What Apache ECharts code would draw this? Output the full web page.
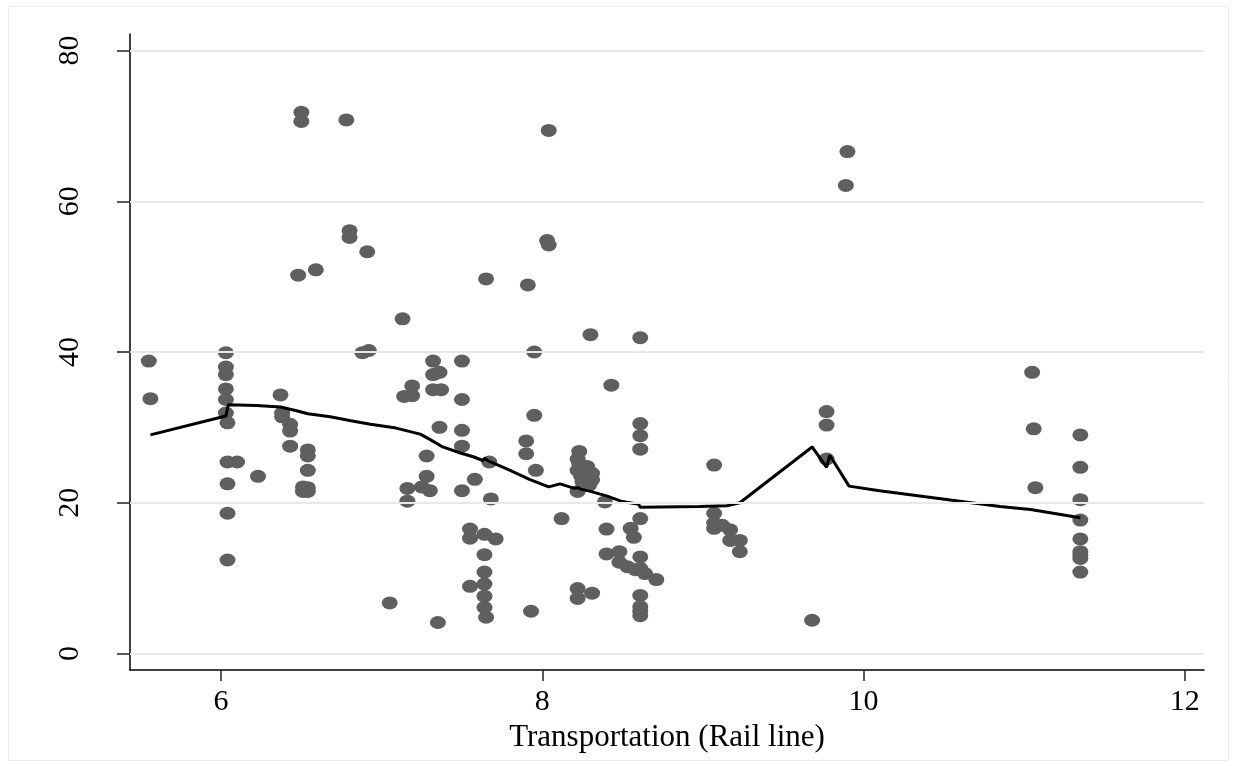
<!DOCTYPE html>
<html>
<head>
<meta charset="utf-8">
<script src="https://cdn.jsdelivr.net/npm/echarts@6/dist/echarts.min.js"></script>
<style>
html,body{margin:0;padding:0;background:#fff;}
#chart{width:1235px;height:766px;}
</style>
</head>
<body>
<div id="chart"></div>
<script>
// ---- data ----
var pointX = [
  5.55,5.56,
  6.03,6.03,6.03,6.03,6.03,6.03,6.04,6.04,6.10,6.04,6.04,6.04,
  6.23,
  6.37,6.38,6.38,6.43,6.43,6.43,
  6.54,6.54,6.54,6.51,6.54,6.51,6.54,
  6.48,6.59,6.50,6.50,6.78,6.80,6.80,6.91,
  6.88,6.92,7.13,
  7.14,7.19,7.19,
  7.32,7.50,7.32,7.36,7.32,7.37,
  7.50,7.36,7.50,7.50,7.28,7.28,
  7.16,7.25,7.30,7.16,7.58,7.50,7.68,7.67,
  7.55,7.55,7.64,7.71,7.64,7.64,7.55,7.64,7.64,7.64,7.65,
  7.05,7.35,
  7.65,7.91,7.95,7.95,7.90,7.90,7.96,7.93,
  8.04,8.03,8.04,
  8.12,
  8.30,8.61,8.43,
  8.61,8.61,8.61,
  8.23,8.22,8.23,8.22,8.24,8.31,8.31,8.29,8.22,8.25,8.28,
  8.39,8.61,8.40,8.55,8.57,8.40,8.48,8.48,8.53,8.58,8.61,8.61,8.64,8.71,
  8.22,8.22,8.31,
  8.61,8.61,8.61,8.61,
  9.07,9.07,9.07,9.07,9.12,9.17,9.17,9.23,9.23,
  9.68,9.77,9.77,9.77,
  9.90,9.89,
  11.05,11.06,11.07,
  11.35,11.35,11.35,11.35,11.35,11.35,11.35,11.35,11.35
];
var pointY = [
  38.8,33.8,
  39.9,38.0,37.0,35.1,33.7,31.9,30.6,25.4,25.4,22.5,18.6,12.4,
  23.5,
  34.3,31.9,31.4,30.4,29.5,27.5,
  27.0,26.2,24.3,22.1,22.0,21.5,21.5,
  50.2,50.9,71.8,70.6,70.8,56.1,55.2,53.3,
  39.9,40.2,44.4,
  34.1,34.2,35.5,
  38.8,38.8,37.0,37.3,35.0,35.0,
  33.7,30.0,29.6,27.5,26.2,23.5,
  21.9,22.1,21.6,20.2,23.1,21.6,20.5,25.4,
  16.5,15.3,15.8,15.2,13.1,10.8,8.9,9.2,7.6,6.1,4.8,
  6.7,4.1,
  49.7,48.9,40.0,31.6,28.2,26.5,24.3,5.6,
  69.4,54.8,54.2,
  17.9,
  42.3,41.9,35.6,
  30.5,28.9,27.1,
  26.8,25.8,25.2,24.3,23.6,23.9,23.0,22.3,21.5,22.8,24.8,
  20.1,17.9,16.5,16.6,15.4,13.2,13.5,12.1,11.5,11.1,12.8,11.3,10.6,9.8,
  8.6,7.3,8.0,
  7.7,6.2,5.6,5.0,
  25.0,18.6,17.3,16.6,17.0,16.4,15.0,15.0,13.5,
  4.4,32.1,30.3,25.8,
  66.6,62.1,
  37.3,29.8,22.0,
  29.0,24.7,20.4,17.7,15.2,13.5,12.6,13.0,10.8
];
var lowessX = [5.56,6.03,6.035,6.045,6.22,6.37,6.47,6.54,6.68,6.80,6.93,7.09,7.24,7.30,7.38,7.49,7.57,7.63,7.64,7.66,7.80,7.92,8.04,8.11,8.20,8.22,8.24,8.30,8.40,8.49,8.60,8.61,8.98,9.15,9.23,9.68,9.77,9.79,9.91,10.10,10.85,11.04,11.35];
var lowessY = [29.0,31.5,32.0,33.0,32.9,32.7,32.2,31.8,31.4,30.9,30.4,29.9,29.1,28.4,27.4,26.6,26.1,25.6,25.9,25.6,24.3,23.1,22.1,22.5,21.9,22.0,21.8,21.5,20.9,20.2,19.8,19.4,19.5,19.6,20.0,27.4,24.7,26.3,22.2,21.6,19.5,19.1,18.0];
var xTicks = [6, 8, 10, 12];
var yTicks = [0, 20, 40, 60, 80];
var xTitle = 'Transportation (Rail line)';

// ---- build ----
var scatterData = pointX.map(function (x, i) { return [x, pointY[i]]; });
var lowessData = lowessX.map(function (x, i) { return [x, lowessY[i]]; });
var FONT = 'Liberation Serif';

var chart = echarts.init(document.getElementById('chart'), null, {renderer: 'canvas'});
chart.setOption({
  animation: false,
  backgroundColor: '#ffffff',
  graphic: [{
    type: 'rect', silent: true, z: -10,
    shape: {x: 8.5, y: 6.5, width: 1220, height: 754},
    style: {fill: 'none', stroke: '#ececec', lineWidth: 1}
  }],
  grid: {left: 130, right: 31, top: 34, bottom: 96, containLabel: false},
  xAxis: {
    type: 'value', min: 5.433, max: 12.12,
    name: xTitle, nameLocation: 'middle', nameGap: 42,
    nameTextStyle: {fontFamily: FONT, fontSize: 31, color: '#000', verticalAlign: 'top'},
    axisLine: {show: true, onZero: false, lineStyle: {color: '#000', width: 1.5}},
    axisTick: {show: true, length: 11, customValues: xTicks, lineStyle: {color: '#222', width: 1.5}},
    axisLabel: {customValues: xTicks, margin: 17, fontFamily: FONT, fontSize: 30, color: '#000'},
    splitLine: {show: false}
  },
  yAxis: {
    type: 'value', min: -2.2, max: 82.2,
    axisLine: {show: true, onZero: false, lineStyle: {color: '#000', width: 1.5}},
    axisTick: {show: true, length: 13, customValues: yTicks, lineStyle: {color: '#222', width: 1.5}},
    axisLabel: {customValues: yTicks, rotate: 90, margin: 45, fontFamily: FONT, fontSize: 30, color: '#000'},
    splitLine: {show: false}
  },
  series: [
    {
      type: 'line', data: [], z: 1, silent: true,
      markLine: {
        silent: true, symbol: ['none', 'none'], animation: false,
        label: {show: false},
        lineStyle: {color: '#e8e8e8', width: 2, type: 'solid'},
        data: yTicks.map(function (v) { return {yAxis: v}; })
      }
    },
    {
      type: 'scatter', data: scatterData, z: 3,
      symbol: 'circle', symbolSize: [16, 13],
      itemStyle: {color: '#5f5f5f', opacity: 1}
    },
    {
      type: 'line', data: lowessData, z: 4,
      showSymbol: false, symbol: 'none',
      lineStyle: {color: '#000', width: 3}
    }
  ]
});
</script>
</body>
</html>
